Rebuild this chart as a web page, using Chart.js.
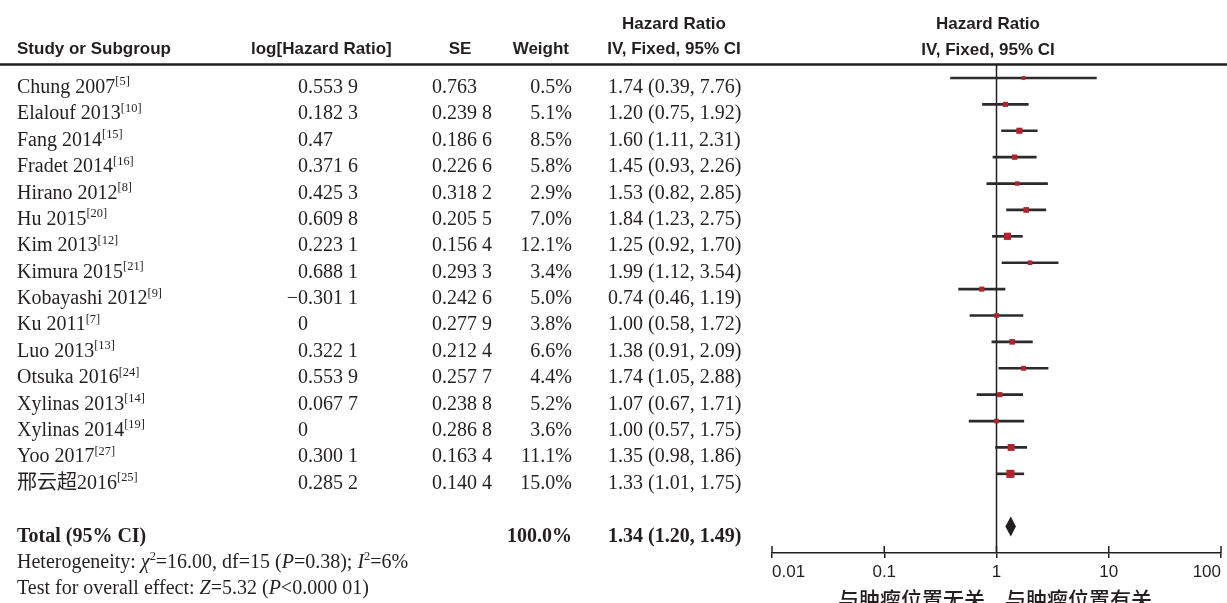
<!DOCTYPE html>
<html>
<head>
<meta charset="utf-8">
<script src="https://cdn.jsdelivr.net/npm/chart.js@4/dist/chart.umd.min.js"></script>
<style>
html,body{margin:0;padding:0;background:#fff;}
#forest{display:block;}
</style>
</head>
<body>
<canvas id="forest" width="1227" height="603"></canvas>
<script>
//data
const studies = ['Chung 2007','Elalouf 2013','Fang 2014','Fradet 2014','Hirano 2012','Hu 2015','Kim 2013','Kimura 2015','Kobayashi 2012','Ku 2011','Luo 2013','Otsuka 2016','Xylinas 2013','Xylinas 2014','Yoo 2017','邢云超2016'];
const refs = ['5','10','15','16','8','20','12','21','9','7','13','24','14','19','27','25'];
const logHR = ['0.553 9','0.182 3','0.47','0.371 6','0.425 3','0.609 8','0.223 1','0.688 1','−0.301 1','0','0.322 1','0.553 9','0.067 7','0','0.300 1','0.285 2'];
const seVals = ['0.763','0.239 8','0.186 6','0.226 6','0.318 2','0.205 5','0.156 4','0.293 3','0.242 6','0.277 9','0.212 4','0.257 7','0.238 8','0.286 8','0.163 4','0.140 4'];
const weights = [0.5,5.1,8.5,5.8,2.9,7.0,12.1,3.4,5.0,3.8,6.6,4.4,5.2,3.6,11.1,15.0];
const hr = [1.74,1.20,1.60,1.45,1.53,1.84,1.25,1.99,0.74,1.00,1.38,1.74,1.07,1.00,1.35,1.33];
const ciLow = [0.39,0.75,1.11,0.93,0.82,1.23,0.92,1.12,0.46,0.58,0.91,1.05,0.67,0.57,0.98,1.01];
const ciHigh = [7.76,1.92,2.31,2.26,2.85,2.75,1.70,3.54,1.19,1.72,2.09,2.88,1.71,1.75,1.86,1.75];
const totalHR = 1.34, totalLow = 1.20, totalHigh = 1.49, totalWeight = '100.0%';
const tickVals = [0.01,0.1,1,10,100];
const tickLabels = ['0.01','0.1','1','10','100'];
const favourLabels = ['与肿瘤位置无关','与肿瘤位置有关'];

const ink = '#231f20';
const serif = '"Liberation Serif","Noto Sans CJK SC",serif';
const sans = '"Liberation Sans",Arial,sans-serif';
const totalRow = studies.length + 1;

function boxSide(w){ return 3.6 + 0.3*w; }
function fmt(v){ return v.toFixed(2); }

// draw a line of mixed text (italic, bold, superscript)
function drawRuns(ctx, x, y, runs, size){
    runs.forEach(r=>{
        const s = r.sup ? size*0.62 : size;
        ctx.font = (r.i?'italic ':'') + (r.b?'bold ':'') + s + 'px ' + serif;
        ctx.fillText(r.t, x, r.sup ? y - size*0.38 : y);
        x += ctx.measureText(r.t).width;
    });
}

const tablePlugin = {
    id:'table',
    beforeDatasetsDraw(chart){
        const {ctx, chartArea, scales:{x}} = chart;
        ctx.save();
        ctx.strokeStyle = ink;
        //header rule
        ctx.lineWidth = 2.5;
        ctx.beginPath();
        ctx.moveTo(0, chartArea.top + 0.5);
        ctx.lineTo(chart.width, chartArea.top + 0.5);
        ctx.stroke();
        //line of no effect
        const x1 = x.getPixelForValue(1);
        ctx.lineWidth = 1.5;
        ctx.beginPath();
        ctx.moveTo(x1, chartArea.top);
        ctx.lineTo(x1, chartArea.bottom);
        ctx.stroke();
        ctx.restore();
    },
    afterDraw(chart){
        const {ctx, chartArea, scales:{x, y}} = chart;
        ctx.save();
        ctx.fillStyle = ink;
        ctx.strokeStyle = ink;

        //upper half of the axis ticks
        ctx.lineWidth = 1.5;
        tickVals.forEach(v=>{
            const px = x.getPixelForValue(v);
            ctx.beginPath();
            ctx.moveTo(px, chartArea.bottom);
            ctx.lineTo(px, chartArea.bottom - 7);
            ctx.stroke();
        });

        //diamond
        const dy = y.getPixelForValue(totalRow);
        ctx.beginPath();
        ctx.moveTo(x.getPixelForValue(totalLow), dy);
        ctx.lineTo(x.getPixelForValue(totalHR), dy - 10);
        ctx.lineTo(x.getPixelForValue(totalHigh), dy);
        ctx.lineTo(x.getPixelForValue(totalHR), dy + 10);
        ctx.closePath();
        ctx.fill();

        //headers
        ctx.textBaseline = 'alphabetic';
        ctx.font = 'bold 17px ' + sans;
        ctx.textAlign = 'left';
        ctx.fillText('Study or Subgroup', 17, 54);
        ctx.fillText('log[Hazard Ratio]', 251, 54);
        ctx.textAlign = 'center';
        ctx.fillText('SE', 460, 54);
        ctx.textAlign = 'right';
        ctx.fillText('Weight', 569, 54);
        ctx.textAlign = 'center';
        ctx.fillText('Hazard Ratio', 674, 29);
        ctx.fillText('IV, Fixed, 95% CI', 674, 54);
        ctx.fillText('Hazard Ratio', 988, 29);
        ctx.fillText('IV, Fixed, 95% CI', 988, 55);

        //study rows
        const fs = 20;
        studies.forEach((s,i)=>{
            const by = y.getPixelForValue(i) + 15;
            ctx.textAlign = 'left';
            drawRuns(ctx, 17, by, [{t:s},{t:'['+refs[i]+']', sup:true}], fs);
            ctx.font = fs + 'px ' + serif;
            if(logHR[i].charAt(0) === '−'){
                ctx.textAlign = 'right';
                ctx.fillText('−', 298, by);
                ctx.textAlign = 'left';
                ctx.fillText(logHR[i].slice(1), 298, by);
            } else {
                ctx.fillText(logHR[i], 298, by);
            }
            ctx.fillText(seVals[i], 432, by);
            ctx.textAlign = 'right';
            ctx.fillText(weights[i].toFixed(1) + '%', 572, by);
            ctx.textAlign = 'left';
            ctx.fillText(fmt(hr[i]) + ' (' + fmt(ciLow[i]) + ', ' + fmt(ciHigh[i]) + ')', 608, by);
        });

        //total
        const ty = y.getPixelForValue(totalRow) + 15;
        ctx.font = 'bold ' + fs + 'px ' + serif;
        ctx.textAlign = 'left';
        ctx.fillText('Total (95% CI)', 17, ty);
        ctx.textAlign = 'right';
        ctx.fillText(totalWeight, 572, ty);
        ctx.textAlign = 'left';
        ctx.fillText(fmt(totalHR) + ' (' + fmt(totalLow) + ', ' + fmt(totalHigh) + ')', 608, ty);

        drawRuns(ctx, 17, y.getPixelForValue(totalRow + 1) + 15, [
            {t:'Heterogeneity: '},{t:'χ', i:true},{t:'2', sup:true},{t:'=16.00, df=15 ('},
            {t:'P', i:true},{t:'=0.38); '},{t:'I', i:true},{t:'2', sup:true},{t:'=6%'}
        ], fs);
        drawRuns(ctx, 17, y.getPixelForValue(totalRow + 2) + 15, [
            {t:'Test for overall effect: '},{t:'Z', i:true},{t:'=5.32 ('},{t:'P', i:true},{t:'<0.000 01)'}
        ], fs);

        //favours labels
        const x1 = x.getPixelForValue(1);
        ctx.font = '500 21px "Noto Sans CJK SC",sans-serif';
        ctx.textAlign = 'center';
        ctx.textBaseline = 'middle';
        ctx.fillText(favourLabels[0], x1 - 85, 599);
        ctx.fillText(favourLabels[1], x1 + 82, 599);
        ctx.restore();
    }
};

var ctx = document.getElementById('forest').getContext('2d');
var chart = new Chart(ctx, {
    type: 'bar',
    data: {
        datasets: [{
            type: 'scatter',
            order: 0,
            data: hr.map((v,i)=>({x:v, y:i})),
            pointStyle: 'rect',
            pointRadius: c => boxSide(weights[c.dataIndex]) / Math.SQRT2,
            pointBorderWidth: 0,
            pointBackgroundColor: '#b3222e',
            pointBorderColor: '#b3222e'
        },{
            type: 'bar',
            order: 1,
            data: ciLow.map((v,i)=>({x:[v, ciHigh[i]], y:i})),
            backgroundColor: '#2b2b2b',
            borderWidth: 0,
            barThickness: 2
        }]
    },
    plugins: [tablePlugin],
    options: {
        indexAxis: 'y',
        responsive: false,
        animation: false,
        devicePixelRatio: 1,
        layout: { padding: { left: 772, right: 6, top: 64, bottom: 20 } },
        plugins: { legend: { display: false }, tooltip: { enabled: false } },
        scales: {
            x: {
                type: 'logarithmic',
                position: 'bottom',
                min: 0.01,
                max: 100,
                afterBuildTicks: s => { s.ticks = tickVals.map(v=>({value:v})); },
                afterFit: s => { s.height = 30; s.paddingLeft = 0; s.paddingRight = 0; },
                border: { display: true, color: ink, width: 1.5 },
                grid: { drawOnChartArea: false, drawTicks: true, tickLength: 5, color: ink, lineWidth: 1.5 },
                ticks: {
                    autoSkip: false,
                    maxRotation: 0,
                    align: 'inner',
                    padding: 4,
                    color: ink,
                    font: { family: sans, size: 17 },
                    callback: (v, i) => tickLabels[i]
                }
            },
            y: {
                type: 'linear',
                reverse: true,
                offset: false,
                min: -0.53,
                max: 18,
                display: false
            }
        }
    }
});
</script>
</body>
</html>
